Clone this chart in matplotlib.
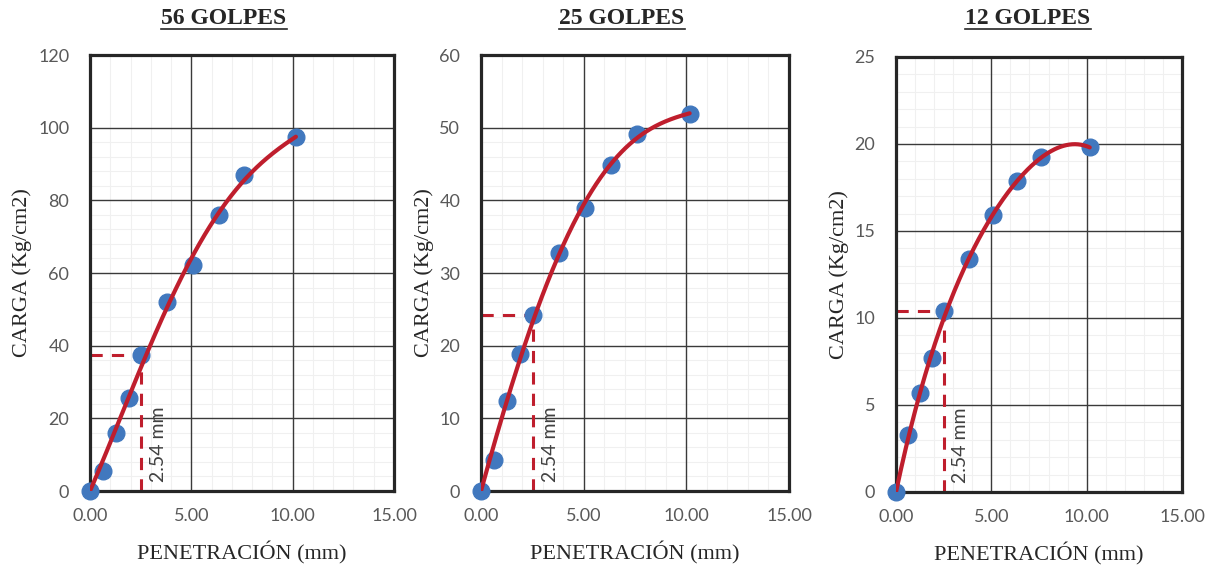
import numpy as np
import matplotlib.pyplot as plt
from matplotlib.ticker import MultipleLocator, FormatStrFormatter

# penetration (mm) and load (Kg/cm2) for each compaction
pen = [0.0, 0.635, 1.27, 1.905, 2.54, 3.81, 5.08, 6.35, 7.62, 10.16]
carga_56 = [0.0, 5.4, 15.9, 25.6, 37.3, 51.9, 62.3, 75.9, 87.0, 97.3]
carga_25 = [0.0, 4.3, 12.4, 18.9, 24.2, 32.8, 39.0, 44.9, 49.1, 51.9]
carga_12 = [0.0, 3.25, 5.7, 7.7, 10.4, 13.4, 15.9, 17.85, 19.25, 19.8]

titles = ['56 GOLPES', '25 GOLPES', '12 GOLPES']
ymax = [120, 60, 25]
ystep = [20, 10, 5]
carga_254 = [37.3, 24.2, 10.4]

blue = '#4178BE'
red = '#BF1E2D'
serif = 'Liberation Serif'
sans = 'Lato'


def trend(x, y, xs, order=4):
    # polynomial trend line with intercept fixed at 0
    x = np.asarray(x)
    A = np.vstack([x ** k for k in range(1, order + 1)]).T
    co = np.linalg.lstsq(A, np.asarray(y), rcond=None)[0]
    return sum(co[k - 1] * xs ** k for k in range(1, order + 1))


fig = plt.figure(figsize=(12.2, 5.72), dpi=100)
W, H = 1220, 572
boxes = [(90, 55, 394, 491), (481, 55, 789, 491), (896, 57, 1182, 492)]
title_x = [224, 622, 1028]

for i, y in enumerate([carga_56, carga_25, carga_12]):
    l, t, r, b = boxes[i]
    ax = fig.add_axes([l / W, 1 - b / H, (r - l) / W, (b - t) / H])
    ax.set_xlim(0, 15)
    ax.set_ylim(0, ymax[i])
    ax.xaxis.set_major_locator(MultipleLocator(5))
    ax.yaxis.set_major_locator(MultipleLocator(ystep[i]))
    ax.xaxis.set_major_formatter(FormatStrFormatter('%.2f'))
    # minor grid drawn first, underneath the major lines
    for xv in np.arange(1, 15):
        if xv % 5:
            ax.axvline(xv, color='#f0f0f0', lw=0.8, zorder=0.1)
    for yv in np.arange(1, 25) * ystep[i] / 5:
        if yv < ymax[i] and round(yv / ystep[i], 6) % 1:
            ax.axhline(yv, color='#f0f0f0', lw=0.8, zorder=0.1)
    ax.grid(which='major', color='#3a3a3a', lw=1.0)
    ax.set_axisbelow(True)
    for s in ax.spines.values():
        s.set_linewidth(2.3)
        s.set_color('#262626')
    ax.tick_params(which='both', length=0, labelsize=13, labelcolor='#595959')
    ax.tick_params(axis='y', pad=15)
    ax.tick_params(axis='x', pad=12)
    for lab in ax.get_xticklabels() + ax.get_yticklabels():
        lab.set_fontfamily(sans)

    xs = np.linspace(0, pen[-1], 200)
    ax.plot(xs, trend(pen, y, xs), color=red, lw=3.0, zorder=4, solid_capstyle='round')
    ax.plot(pen, y, 'o', color=blue, ms=12, zorder=3, clip_on=False)

    # 2.54 mm reference
    v = carga_254[i]
    ax.plot([2.54, 2.54], [0, v], '--', color=red, lw=2.2, dashes=(4, 3), zorder=2)
    ax.plot([0, 2.54], [v, v], '--', color=red, lw=2.2, dashes=(4, 3), zorder=2)
    ax.text(2.95, ymax[i] * 0.02, '2.54 mm', rotation=90, ha='left', va='bottom',
            fontsize=14, color='#404040', family=sans)

    ax.set_xlabel('PENETRACIÓN (mm)', fontsize=16, family=serif, color='#262626', labelpad=13)
    ax.set_ylabel('CARGA (Kg/cm2)', fontsize=16, family=serif, color='#262626', labelpad=4)
    fig.text(title_x[i] / W, 1 - 18 / H, titles[i], ha='center', va='center',
             fontsize=17, fontweight='bold', family=serif, color='#262626')
    # underline
    tw = 0.104
    fig.add_artist(plt.Line2D([title_x[i] / W - tw / 2, title_x[i] / W + tw / 2],
                              [1 - 29 / H, 1 - 29 / H], color='#262626', lw=1.2))

fig.savefig('out.png', dpi=100)
